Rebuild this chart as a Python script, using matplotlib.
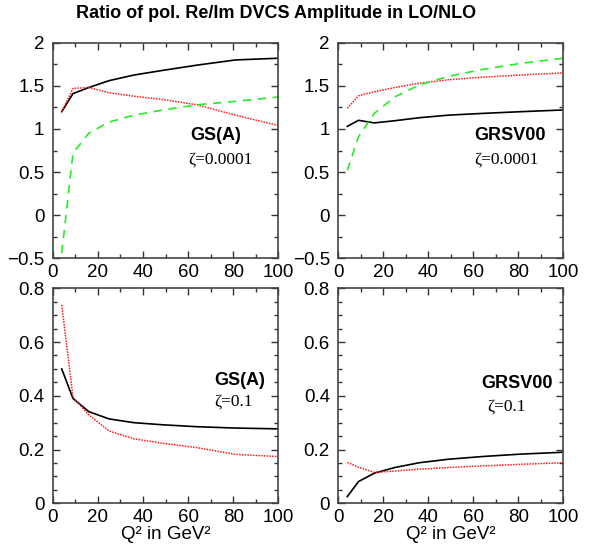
import numpy as np
import matplotlib.pyplot as plt
from matplotlib.ticker import MultipleLocator

# Q^2 grid (GeV^2)
q2 = [4, 9, 16, 25, 36, 49, 64, 81, 100]

# zeta = 0.0001, GS(A)
gsa_small_black = [1.20, 1.41, 1.48, 1.56, 1.625, 1.68, 1.74, 1.80, 1.82]
gsa_small_red = [1.20, 1.47, 1.48, 1.42, 1.38, 1.34, 1.28, 1.16, 1.04]
gsa_small_green = [-0.44, 0.72, 0.95, 1.08, 1.16, 1.22, 1.28, 1.32, 1.37]

# zeta = 0.0001, GRSV00
grsv_small_black = [1.03, 1.10, 1.07, 1.095, 1.13, 1.16, 1.18, 1.20, 1.22]
grsv_small_red = [1.24, 1.385, 1.43, 1.48, 1.53, 1.57, 1.60, 1.625, 1.65]
grsv_small_green = [0.52, 0.91, 1.18, 1.37, 1.51, 1.61, 1.69, 1.76, 1.82]

# zeta = 0.1, GS(A)
gsa_big_black = [0.50, 0.39, 0.341, 0.314, 0.300, 0.292, 0.285, 0.280, 0.277]
gsa_big_red = [0.738, 0.395, 0.329, 0.269, 0.240, 0.223, 0.207, 0.182, 0.174]

# zeta = 0.1, GRSV00
grsv_big_black = [0.025, 0.081, 0.112, 0.133, 0.151, 0.164, 0.174, 0.183, 0.190]
grsv_big_red = [0.152, 0.134, 0.115, 0.120, 0.127, 0.133, 0.139, 0.145, 0.151]

top_yticks = [-0.5, 0, 0.5, 1, 1.5, 2]
top_ylabels = ['\u22120.5', '0', '0.5', '1', '1.5', '2']
bot_yticks = [0, 0.2, 0.4, 0.6, 0.8]
bot_ylabels = ['0', '0.2', '0.4', '0.6', '0.8']

sans = 'Liberation Sans'
serif = 'Liberation Serif'
plt.rcParams['font.family'] = [sans, 'DejaVu Sans']

fig = plt.figure(figsize=(5.92, 5.55), dpi=100)

W, H = 592.0, 555.0
def make_ax(l, t, r, b):
    return fig.add_axes([l / W, 1 - b / H, (r - l) / W, (b - t) / H])

ax_tl = make_ax(52.7, 42.7, 278.3, 258.3)
ax_tr = make_ax(338.3, 42.7, 563.3, 258.3)
ax_bl = make_ax(52.7, 288.3, 278.3, 503.3)
ax_br = make_ax(338.3, 288.3, 563.3, 503.3)

red = '#ff1a1a'
green = '#22ee22'
tsize = 13.5

# top row
for ax, blk, rd, gr in [(ax_tl, gsa_small_black, gsa_small_red, gsa_small_green),
                        (ax_tr, grsv_small_black, grsv_small_red, grsv_small_green)]:
    ax.plot(q2, blk, color='black', lw=1.2)
    ax.plot(q2, rd, color=red, lw=1.1, linestyle=(0, (1, 0.8)))
    ax.plot(q2, gr, color=green, lw=1.2, linestyle=(0, (5, 4)))
    ax.set_ylim(-0.5, 2)
    ax.set_yticks(top_yticks)
    ax.set_yticklabels(top_ylabels)
    ax.yaxis.set_minor_locator(MultipleLocator(0.25))

# bottom row
for ax, blk, rd in [(ax_bl, gsa_big_black, gsa_big_red),
                    (ax_br, grsv_big_black, grsv_big_red)]:
    ax.plot(q2, blk, color='black', lw=1.2)
    ax.plot(q2, rd, color=red, lw=1.1, linestyle=(0, (1, 0.8)))
    ax.set_ylim(0, 0.8)
    ax.set_yticks(bot_yticks)
    ax.set_yticklabels(bot_ylabels)
    ax.yaxis.set_minor_locator(MultipleLocator(0.05))
    ax.set_xlabel('Q\u00b2 in GeV\u00b2', fontsize=tsize, labelpad=0)

for ax in [ax_tl, ax_tr, ax_bl, ax_br]:
    ax.set_xlim(0, 100)
    ax.xaxis.set_major_locator(MultipleLocator(20))
    ax.xaxis.set_minor_locator(MultipleLocator(10))
    ax.tick_params(which='both', direction='in', top=True, right=True,
                   color='#333333', labelsize=tsize)
    ax.tick_params(which='major', length=5, width=1)
    ax.tick_params(which='minor', length=3, width=1)
    ax.tick_params(axis='y', pad=6)
    ax.tick_params(axis='x', pad=4)
    for s in ax.spines.values():
        s.set_color('#444444')
        s.set_linewidth(1.2)

# panel labels
labels = [(ax_tl, 0.61, 0.57, 'GS(A)', 0.60, 0.46, '\u03b6=0.0001'),
          (ax_tr, 0.605, 0.57, 'GRSV00', 0.605, 0.46, '\u03b6=0.0001'),
          (ax_bl, 0.715, 0.57, 'GS(A)', 0.715, 0.475, '\u03b6=0.1'),
          (ax_br, 0.635, 0.555, 'GRSV00', 0.66, 0.45, '\u03b6=0.1')]
for ax, x1, y1, name, x2, y2, zeta in labels:
    ax.text(x1, y1, name, transform=ax.transAxes, fontsize=13,
            fontweight='bold', va='center', ha='left')
    ax.text(x2, y2, zeta, transform=ax.transAxes, fontsize=12.5,
            family=[serif, 'DejaVu Serif'], va='center', ha='left')

fig.text(276 / W, 1 - 14 / H, 'Ratio of pol. Re/Im DVCS Amplitude in LO/NLO',
         ha='center', va='center', fontsize=13, fontweight='bold')

fig.savefig('out.png', dpi=100)
